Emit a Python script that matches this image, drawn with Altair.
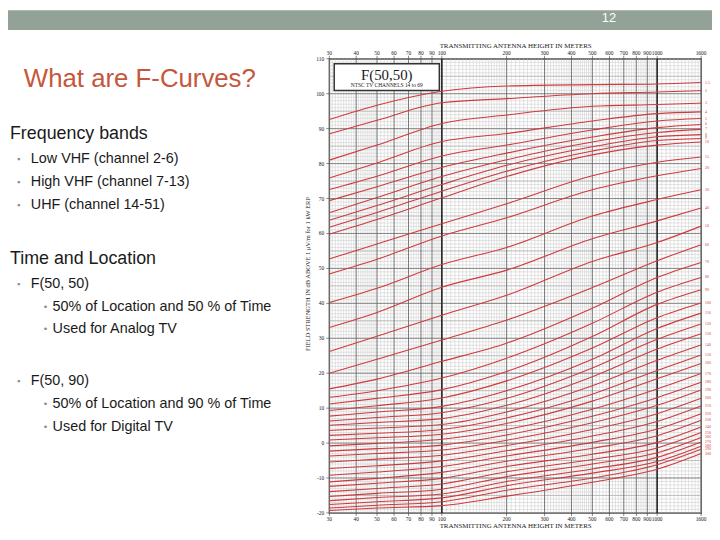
import altair as alt
import pandas as pd

# ---------------- data ----------------
heights_m = [30, 50, 100, 200, 500, 1000, 1600]
distance_km = ["1.5", "2", "3", "4", "5", "6", "7", "8", "9", "10", "15", "20", "30", "40",
               "50", "60", "70", "80", "90", "100", "110", "120", "130", "140", "150", "160",
               "170", "180", "190", "200", "210", "220", "230", "240", "250", "260", "270",
               "280", "290", "300"]

field_at_30m = [92.6, 88.5, 81.0, 75.9, 72.6, 69.4, 65.9, 63.8, 61.8, 59.8, 52.7, 48.4, 40.2, 33.1,
                26.2, 20.0, 15.5, 13.1, 11.2, 9.3, 7.7, 6.3, 5.1, 3.6, 2.2, 0.9, -0.8, -2.3, -3.7,
                -5.4, -7.3, -9.2, -11.1, -12.4, -13.9, -15.3, -16.5, -17.6, -18.6, -19.3]
field_at_50m = [96.7, 92.4, 85.3, 80.2, 76.4, 73.4, 70.3, 68.0, 66.0, 64.0, 57.0, 52.6, 44.3, 37.4,
                30.6, 24.0, 18.3, 15.0, 12.8, 10.7, 8.9, 7.3, 5.9, 4.3, 2.8, 1.5, -0.1, -1.6, -3.0,
                -4.6, -6.5, -8.3, -10.1, -11.5, -13.0, -14.4, -15.6, -16.8, -17.8, -18.6]
field_at_100m = [100.7, 97.4, 91.5, 86.3, 82.2, 78.9, 76.3, 74.0, 72.1, 70.2, 62.8, 59.3, 51.1, 44.6,
                 36.6, 29.5, 23.4, 18.6, 15.3, 12.9, 10.5, 8.7, 7.0, 5.3, 3.9, 2.5, 1.1, -0.6, -2.0,
                 -3.5, -5.1, -6.7, -8.4, -10.1, -11.7, -13.2, -14.6, -15.7, -16.8, -17.9]
field_at_200m = [102.2, 98.6, 93.9, 88.6, 85.3, 83.0, 81.1, 79.5, 77.8, 76.3, 68.5, 64.5, 56.0, 49.5,
                 42.3, 35.2, 28.6, 24.3, 20.5, 17.8, 15.0, 12.8, 10.8, 8.9, 7.2, 5.6, 3.9, 2.3, 0.8,
                 -0.7, -2.2, -3.7, -5.2, -6.7, -8.2, -9.6, -11.0, -12.2, -13.5, -15.2]
field_at_500m = [102.6, 100.0, 96.4, 92.2, 89.6, 87.6, 86.2, 84.8, 83.6, 82.5, 76.5, 72.5, 65.0, 58.5,
                 52.0, 44.5, 38.6, 34.3, 30.5, 27.2, 24.0, 21.5, 19.0, 16.4, 14.0, 12.0, 9.7, 7.7, 5.8,
                 3.9, 2.0, 0.2, -1.5, -3.2, -4.7, -6.0, -7.4, -8.6, -10.0, -11.2]
field_at_1000m = [102.8, 100.5, 96.9, 94.3, 92.2, 90.3, 88.9, 87.7, 86.6, 85.3, 80.4, 76.5, 69.7, 63.6,
                  57.4, 52.2, 47.4, 43.2, 39.7, 35.9, 32.8, 29.7, 26.9, 23.7, 20.8, 18.4, 15.5, 13.0, 10.8,
                  8.4, 6.2, 4.0, 2.1, 0.2, -1.4, -2.8, -4.1, -5.3, -6.2, -7.5]
field_at_1600m = [103.2, 100.9, 97.3, 94.8, 92.9, 91.2, 89.8, 88.3, 87.2, 86.2, 81.9, 78.6, 72.5, 67.3,
                  62.1, 56.8, 51.7, 47.4, 43.9, 40.1, 37.2, 34.1, 31.3, 28.1, 25.2, 22.8, 19.9, 17.4, 15.2,
                  12.8, 10.6, 8.4, 6.5, 4.6, 3.0, 1.6, 0.3, -0.9, -1.8, -3.0]

height_ticks = [30, 40, 50, 60, 70, 80, 90, 100, 200, 300, 400, 500, 600, 700, 800, 900, 1000, 1600]
db_ticks = [-20, -10, 0, 10, 20, 30, 40, 50, 60, 70, 80, 90, 100, 110]

slide_title = "What are F-Curves?"
slide_lines = [
    ("Frequency bands", 0),
    ("Low VHF (channel 2-6)", 1),
    ("High VHF (channel 7-13)", 1),
    ("UHF (channel 14-51)", 1),
    ("Time and Location", 0),
    ("F(50, 50)", 1),
    ("50% of Location and 50 % of Time", 2),
    ("Used for Analog TV", 2),
    ("F(50, 90)", 1),
    ("50% of Location and 90 % of Time", 2),
    ("Used for Digital TV", 2),
]
slide_line_y = [76, 101, 124, 147, 202, 227, 250, 273, 325, 348, 371]

# ---------------- tables ----------------
columns = [field_at_30m, field_at_50m, field_at_100m, field_at_200m,
           field_at_500m, field_at_1000m, field_at_1600m]
rows = []
for hi, h in enumerate(heights_m):
    for di, d in enumerate(distance_km):
        rows.append({"h": h, "v": columns[hi][di], "dist": d})
curve_df = pd.DataFrame(rows)
end_df = curve_df[curve_df["h"] == 1600]

# graph-paper rulings
minor_x = (list(range(30, 50, 1)) + list(range(50, 100, 2)) + list(range(100, 200, 5))
           + list(range(200, 500, 10)) + list(range(500, 1000, 20)) + list(range(1000, 1601, 50)))
minor_y = list(range(-20, 111, 1))
mid_y = list(range(-15, 110, 10))
minor_x_df = pd.DataFrame({"h": minor_x})
minor_y_df = pd.DataFrame({"v": minor_y})
mid_y_df = pd.DataFrame({"v": mid_y})
heavy_x_df = pd.DataFrame({"h": [100, 1000]})
xtick_df = pd.DataFrame({"h": height_ticks, "lab": [str(t) for t in height_ticks]})
ytick_df = pd.DataFrame({"v": db_ticks, "lab": [str(t) for t in db_ticks]})

xscale = alt.Scale(type="log", domain=[30, 1600], nice=False)
yscale = alt.Scale(domain=[-20, 110], nice=False, zero=False)
XH = alt.X("h:Q", scale=xscale, axis=None)
YV = alt.Y("v:Q", scale=yscale, axis=None)

SERIF = "Liberation Serif"
SANS = "Liberation Sans"
RED = "#cf3a3e"
INK = "#222222"


def one(text):
    return pd.DataFrame({"t": [text]})


def txt(text, x, y, size, color="#1a1a1a", font=SANS, align="left", angle=0):
    return alt.Chart(one(text)).mark_text(
        font=font, fontSize=size, color=color, align=align, baseline="middle", angle=angle
    ).encode(x=alt.value(x), y=alt.value(y), text="t:N")


layers = []

# slide header bar and page number
layers.append(alt.Chart(one("bar")).mark_rect(color="#93a296").encode(
    x=alt.value(-324), x2=alt.value(386), y=alt.value(-49), y2=alt.value(-29)))
layers.append(txt("12", 282, -41, 13, color="#ffffff", align="center"))

# slide title and bullets
layers.append(txt(slide_title, -308, 20, 26, color="#c4573c"))
for (line, level), yy in zip(slide_lines, slide_line_y):
    if level == 0:
        layers.append(txt(line, -322, yy, 18))
    elif level == 1:
        layers.append(txt("▪", -315, yy, 9, color="#8a8a8a"))
        layers.append(txt(line, -301, yy, 14.5))
    else:
        layers.append(txt("•", -288, yy, 10, color="#8a8a8a"))
        layers.append(txt(line, -279, yy, 14.5))

# graph paper
layers.append(alt.Chart(minor_y_df).mark_rule(color="#cfcfcf", strokeWidth=0.6).encode(y=YV))
layers.append(alt.Chart(minor_x_df).mark_rule(color="#cfcfcf", strokeWidth=0.6).encode(x=XH))
layers.append(alt.Chart(mid_y_df).mark_rule(color="#a9a9a9", strokeWidth=0.6).encode(y=YV))
layers.append(alt.Chart(ytick_df).mark_rule(color="#6e6e6e", strokeWidth=0.8).encode(y=YV))
layers.append(alt.Chart(xtick_df).mark_rule(color="#5e5e5e", strokeWidth=0.8).encode(x=XH))
layers.append(alt.Chart(heavy_x_df).mark_rule(color="#222222", strokeWidth=1.5).encode(x=XH))

# curves
layers.append(alt.Chart(curve_df).mark_line(color=RED, strokeWidth=1.1, interpolate="monotone").encode(
    x=XH, y=YV, detail="dist:N", order="h:Q"))

# x axes (top and bottom): tick labels, ticks and titles
layers.append(alt.Chart(xtick_df).mark_text(font=SERIF, fontSize=5.5, color=INK, baseline="middle").encode(
    x=XH, y=alt.value(-6), text="lab:N"))
layers.append(alt.Chart(xtick_df).mark_text(font=SERIF, fontSize=5.5, color=INK, baseline="middle").encode(
    x=XH, y=alt.value(464), text="lab:N"))
layers.append(alt.Chart(xtick_df).mark_tick(color="#333", size=3, thickness=0.8, orient="vertical").encode(
    x=XH, y=alt.value(-1.5)))
layers.append(alt.Chart(xtick_df).mark_tick(color="#333", size=3, thickness=0.8, orient="vertical").encode(
    x=XH, y=alt.value(459.5)))
layers.append(txt("TRANSMITTING ANTENNA HEIGHT IN METERS", 188, -13, 7, font=SERIF, align="center", color=INK))
layers.append(txt("TRANSMITTING ANTENNA HEIGHT IN METERS", 188, 471, 7, font=SERIF, align="center", color=INK))

# y axis: tick labels, ticks and title
layers.append(alt.Chart(ytick_df).mark_text(font=SERIF, fontSize=5.5, color=INK, align="right",
                                            baseline="middle").encode(
    x=alt.value(-5), y=YV, text="lab:N"))
layers.append(alt.Chart(ytick_df).mark_tick(color="#333", size=3, thickness=0.8, orient="horizontal").encode(
    x=alt.value(-1.5), y=YV))
layers.append(txt("FIELD STRENGTH IN dB ABOVE 1 μV/m for 1 kW ERP", -21, 217, 6.5, font=SERIF,
                  align="center", angle=270, color=INK))

# distance labels at curve ends
layers.append(alt.Chart(end_df).mark_text(font=SERIF, fontSize=4, color=RED, align="left",
                                          baseline="middle", dx=4).encode(x=XH, y=YV, text="dist:N"))

# title box
layers.append(alt.Chart(one("box")).mark_rect(fill="#ffffff", stroke="#333333", strokeWidth=1.5).encode(
    x=alt.value(5), x2=alt.value(111), y=alt.value(5), y2=alt.value(32)))
layers.append(txt("F(50,50)", 58, 16, 15, font=SERIF, align="center"))
layers.append(txt("NTSC TV CHANNELS 14 to 69", 58, 26, 5.5, font=SERIF, align="center"))

chart = alt.layer(*layers).properties(
    width=375, height=458,
    autosize=alt.AutoSizeParams(type="none"),
    padding={"left": 324, "top": 49, "right": 11, "bottom": 17},
    background="#ffffff",
).configure_view(stroke="#333333", strokeWidth=1.3)

chart.save("out.html", embed_options={"renderer": "svg", "actions": False})
